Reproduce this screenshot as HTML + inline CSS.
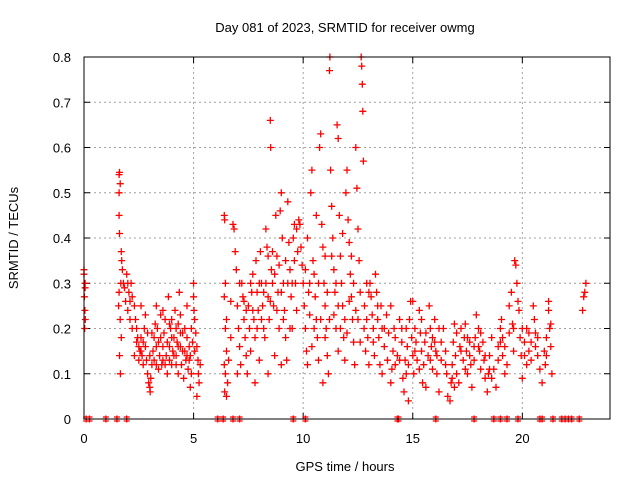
<!DOCTYPE html>
<html><head><meta charset="utf-8"><style>
body{margin:0;background:#fff}
svg text{font-family:"Liberation Sans",sans-serif;font-size:13px;fill:#000}
</style></head><body>
<svg width="640" height="480" viewBox="0 0 640 480" xmlns="http://www.w3.org/2000/svg">
<rect width="640" height="480" fill="#fff"/>
<text x="345" y="32" text-anchor="middle">Day 081 of 2023, SRMTID for receiver owmg</text>
<g id="grid"></g>
<g id="axes"></g>
<g id="marks"></g>
<rect x="84" y="57" width="526" height="362" fill="none" stroke="#000" stroke-width="1"/>
<text x="345" y="471" text-anchor="middle">GPS time / hours</text>
<text x="0" y="0" text-anchor="middle" transform="translate(18,238) rotate(-90)">SRMTID / TECUs</text>
</svg>
<script>
const xTicks=[0,5,10,15,20];
const yTicks=[0,0.1,0.2,0.3,0.4,0.5,0.6,0.7,0.8];
const yTickLabels=["0","0.1","0.2","0.3","0.4","0.5","0.6","0.7","0.8"];
const segA=[[0,0.33],[0,0.32],[0.05,0.3],[0.05,0.29],[0.02,0.27],[0.04,0.24],[0.06,0.22],[0.03,0.2],[1.6,0.54],[1.62,0.545],[1.65,0.52],[1.6,0.5],[1.6,0.45],[1.62,0.41],[1.7,0.37],[1.72,0.35],[1.75,0.33],[1.68,0.3],[1.6,0.28],[1.58,0.25],[1.65,0.22],[1.7,0.18],[1.62,0.14],[1.66,0.1],[1.8,0.3],[1.85,0.29],[1.95,0.32],[2.0,0.3],[2.05,0.28],[2.1,0.26],[2.15,0.3],[2.2,0.27],[2.0,0.24],[2.1,0.22],[1.9,0.26]];
const segB=[[2.3,0.25],[2.35,0.22],[2.4,0.2],[2.45,0.18],[2.5,0.16],[2.55,0.15],[2.6,0.18],[2.5,0.13],[2.65,0.14],[2.7,0.17],[2.75,0.2],[2.8,0.16],[2.85,0.13],[2.9,0.1],[2.95,0.08],[3.0,0.07],[3.02,0.06],[3.05,0.09],[3.1,0.12],[3.15,0.15],[3.2,0.18],[3.25,0.21],[3.3,0.16],[3.35,0.2],[3.4,0.17],[3.45,0.14],[3.5,0.23],[3.55,0.12],[3.6,0.16],[3.65,0.19],[3.7,0.22],[3.75,0.14],[3.8,0.1],[3.85,0.27],[3.9,0.16],[3.95,0.2],[4.0,0.12],[4.05,0.15],[4.1,0.18],[4.15,0.24],[4.2,0.14],[4.25,0.17],[4.3,0.21],[4.35,0.28],[4.4,0.16],[4.45,0.12],[4.5,0.19],[4.55,0.09],[4.6,0.15],[4.65,0.13],[4.7,0.18],[4.75,0.11],[4.8,0.16],[4.85,0.14],[4.9,0.2],[4.95,0.17],[5.0,0.3],[5.0,0.27],[5.02,0.24],[5.05,0.22],[5.1,0.19],[5.15,0.16],[5.2,0.13],[5.22,0.1],[5.25,0.08],[5.3,0.12],[3.3,0.25],[3.6,0.24],[4.0,0.22],[4.2,0.2],[4.4,0.23],[3.1,0.19],[2.6,0.25],[2.8,0.23],[3.9,0.13],[4.7,0.14],[4.3,0.1],[3.7,0.12],[4.85,0.07],[5.15,0.05]];
const segC=[[6.4,0.45],[6.42,0.44],[6.45,0.3],[6.4,0.27],[6.5,0.22],[6.45,0.2],[6.5,0.15],[6.4,0.12],[6.45,0.1],[6.42,0.06],[6.5,0.05],[6.55,0.08],[6.6,0.13],[6.7,0.18],[6.8,0.43],[6.85,0.42],[6.9,0.37],[6.95,0.33],[7.0,0.25],[7.05,0.2],[7.1,0.16],[7.15,0.12],[7.2,0.3],[7.25,0.27],[7.3,0.22],[7.35,0.18],[7.4,0.14],[7.45,0.1],[7.5,0.25],[7.55,0.2],[7.6,0.15],[7.65,0.28],[7.7,0.32],[7.75,0.22],[7.8,0.18],[7.85,0.35],[7.9,0.28],[7.95,0.24],[8.0,0.13],[8.05,0.37],[8.1,0.3],[8.15,0.25],[8.2,0.2],[8.25,0.18],[8.3,0.42],[8.35,0.38],[8.4,0.27],[8.45,0.22],[8.5,0.66],[8.52,0.6],[8.55,0.33],[8.6,0.3],[8.65,0.25],[8.7,0.14],[8.75,0.45],[8.8,0.36],[8.85,0.28],[8.9,0.2],[8.95,0.46],[9.0,0.5],[9.05,0.4],[9.1,0.3],[9.15,0.24],[9.2,0.18],[9.25,0.13],[9.3,0.48],[9.35,0.39],[9.4,0.33],[9.45,0.27],[9.5,0.2],[9.55,0.4],[9.6,0.43],[9.65,0.3],[9.7,0.24],[9.75,0.37],[7.0,0.1],[7.8,0.08],[8.4,0.1],[9.0,0.12],[8.0,0.3],[8.2,0.28],[8.7,0.32],[9.2,0.35],[9.4,0.2],[7.4,0.24],[6.7,0.26]];
const segD=[[9.8,0.44],[9.85,0.43],[9.9,0.38],[9.95,0.34],[10.0,0.3],[10.05,0.25],[10.1,0.2],[10.15,0.15],[10.2,0.12],[10.25,0.28],[10.3,0.23],[10.35,0.5],[10.4,0.55],[10.45,0.35],[10.5,0.32],[10.55,0.27],[10.6,0.22],[10.65,0.18],[10.7,0.13],[10.75,0.6],[10.8,0.63],[10.85,0.43],[10.9,0.38],[10.95,0.3],[11.0,0.25],[11.05,0.2],[11.1,0.14],[11.15,0.1],[11.2,0.77],[11.22,0.8],[11.25,0.55],[11.3,0.47],[11.35,0.4],[11.4,0.33],[11.45,0.28],[11.5,0.2],[11.55,0.65],[11.6,0.62],[11.65,0.45],[11.7,0.36],[11.75,0.3],[11.8,0.25],[11.85,0.18],[11.9,0.13],[11.95,0.5],[12.0,0.55],[12.05,0.44],[12.1,0.39],[12.15,0.32],[12.2,0.27],[12.25,0.22],[12.3,0.17],[12.35,0.12],[12.4,0.6],[12.45,0.51],[12.5,0.42],[12.55,0.35],[12.6,0.28],[12.65,0.8],[12.67,0.78],[12.7,0.74],[12.72,0.68],[12.75,0.57],[12.78,0.2],[10.2,0.4],[10.6,0.45],[11.0,0.36],[11.4,0.23],[11.8,0.41],[12.2,0.36],[10.4,0.16],[11.1,0.28],[11.7,0.2],[12.4,0.24],[10.9,0.08],[11.6,0.15]];
const segE=[[12.85,0.15],[12.9,0.22],[12.95,0.18],[13.0,0.12],[13.05,0.3],[13.1,0.27],[13.15,0.23],[13.2,0.17],[13.25,0.14],[13.3,0.32],[13.35,0.28],[13.4,0.22],[13.45,0.18],[13.5,0.12],[13.55,0.25],[13.6,0.2],[13.7,0.16],[13.8,0.23],[13.85,0.13],[13.9,0.19],[14.0,0.08],[14.05,0.11],[14.1,0.15],[14.15,0.2],[14.2,0.18],[14.3,0.14],[14.4,0.22],[14.5,0.17],[14.55,0.09],[14.6,0.06],[14.65,0.13],[14.7,0.2],[14.75,0.16],[14.8,0.12],[14.85,0.22],[14.9,0.26],[14.95,0.18],[15.0,0.14],[15.05,0.1],[15.1,0.2],[15.15,0.17],[15.2,0.13],[15.3,0.24],[15.35,0.19],[15.4,0.15],[15.45,0.08],[15.5,0.12],[15.55,0.17],[15.6,0.07],[15.7,0.14],[15.75,0.25],[15.8,0.2],[15.85,0.16],[15.9,0.11],[16.0,0.22],[16.05,0.15],[16.1,0.1],[16.2,0.06],[16.3,0.13],[16.4,0.2],[16.5,0.15],[16.55,0.1],[16.6,0.05],[16.7,0.04],[16.75,0.08],[16.8,0.12],[16.85,0.17],[16.9,0.21],[16.95,0.14],[17.0,0.1],[17.1,0.08],[17.15,0.16],[17.2,0.2],[17.3,0.13],[17.35,0.18],[17.4,0.21],[17.45,0.15],[17.5,0.1],[17.6,0.17],[17.65,0.12],[17.7,0.07],[17.8,0.13],[17.85,0.18],[17.9,0.23],[18.0,0.2],[18.05,0.15],[18.1,0.11],[18.2,0.17],[18.25,0.13],[18.3,0.09],[18.4,0.06],[18.45,0.1],[18.5,0.14],[18.6,0.18],[18.7,0.11],[18.8,0.07],[18.9,0.13],[19.0,0.2],[19.05,0.22],[19.1,0.18],[19.2,0.16],[19.3,0.12],[19.4,0.25],[19.5,0.28],[19.55,0.21],[19.6,0.15],[19.65,0.35],[19.7,0.34],[19.75,0.3],[19.8,0.26],[19.85,0.24],[19.9,0.18],[19.95,0.14],[20.0,0.09],[20.1,0.17],[20.2,0.2],[20.3,0.15],[20.4,0.13],[20.5,0.25],[20.55,0.22],[20.6,0.19],[20.7,0.14],[20.8,0.11],[20.9,0.08],[21.0,0.15],[21.05,0.12],[21.1,0.18],[21.2,0.24],[21.25,0.2],[21.3,0.16],[21.35,0.1],[21.2,0.26],[22.8,0.27],[22.85,0.28],[22.9,0.3],[22.75,0.24],[14.0,0.25],[15.0,0.26],[16.2,0.2],[17.0,0.19],[18.0,0.16],[19.2,0.1],[20.0,0.2],[20.2,0.12],[14.4,0.13],[15.9,0.18],[13.6,0.1],[14.8,0.04]];
const segF=[[2.4,0.17],[2.6,0.15],[2.7,0.12],[2.9,0.19],[3.0,0.14],[3.2,0.13],[3.4,0.11],[3.5,0.18],[3.6,0.13],[3.8,0.17],[3.9,0.21],[4.0,0.18],[4.1,0.14],[4.3,0.16],[4.4,0.19],[4.6,0.2],[4.7,0.25],[4.8,0.13],[4.9,0.1],[5.05,0.15],[2.2,0.2],[2.3,0.14],[3.3,0.12],[4.5,0.15],[4.2,0.12],
[7.1,0.3],[7.3,0.26],[7.6,0.3],[7.9,0.2],[8.1,0.22],[8.3,0.3],[8.5,0.26],[8.6,0.37],[8.8,0.24],[9.0,0.28],[9.1,0.22],[9.3,0.3],[9.5,0.3],[9.6,0.35],[9.7,0.42],[8.9,0.34],[8.4,0.36],[7.7,0.24],
[10.1,0.33],[10.3,0.3],[10.5,0.2],[10.7,0.3],[10.8,0.22],[11.0,0.18],[11.2,0.22],[11.3,0.36],[11.5,0.3],[11.6,0.25],[11.9,0.22],[12.0,0.19],[12.1,0.26],[12.3,0.3],[12.5,0.22],[12.6,0.17],[12.8,0.25],[12.9,0.3],[13.0,0.28],[13.2,0.2],[13.4,0.25],[13.7,0.2],
[14.2,0.12],[14.5,0.2],[14.7,0.1],[15.1,0.15],[15.3,0.11],[15.6,0.19],[15.8,0.13],[16.0,0.17],[16.3,0.17],[16.5,0.12],[16.8,0.09],[16.9,0.07],[17.2,0.15],[17.4,0.11],[17.6,0.14],[17.8,0.16],[18.1,0.19],[18.3,0.14],[18.5,0.11],[18.6,0.09],[18.9,0.16],[19.1,0.14],[19.4,0.19],[19.6,0.2],[20.1,0.14],[20.3,0.19],[20.6,0.16],[20.7,0.18],[21.1,0.14],[21.3,0.21],[20.4,0.17],[19.0,0.17],[17.5,0.18],[16.1,0.14],[15.4,0.22]];
const zeroTimes=[0.1,0.25,1.0,1.5,1.95,6.1,6.35,6.8,7.1,9.55,10.1,14.3,14.35,16.05,17.8,18.7,19.0,19.3,19.8,20.8,20.9,21.4,21.8,21.95,22.1,22.25,22.6];

const X0=84,X1=610,Y0=419,Y1=57,XMAX=24,YMAX=0.8;
const xs=t=>X0+(t/XMAX)*(X1-X0);
const ys=v=>Y0-(v/YMAX)*(Y0-Y1);
const NS='http://www.w3.org/2000/svg';
const grid=document.getElementById('grid'),axes=document.getElementById('axes'),marks=document.getElementById('marks');
function mk(tag,attrs,parent){const e=document.createElementNS(NS,tag);for(const k in attrs)e.setAttribute(k,attrs[k]);parent.appendChild(e);return e;}
xTicks.forEach(t=>{
  const x=xs(t);
  if(t>0){const g=mk('line',{x1:x,x2:x,y1:Y0,y2:Y1,stroke:'#a0a0a0','stroke-dasharray':'2,3'},grid);
  
  }
  mk('line',{x1:x,x2:x,y1:Y0,y2:Y0-6,stroke:'#000'},axes);
  mk('line',{x1:x,x2:x,y1:Y1,y2:Y1+6,stroke:'#000'},axes);
  const tx=mk('text',{x:x,y:443,'text-anchor':'middle'},axes);tx.textContent=t;
  
  
});
yTicks.forEach((v,i)=>{
  const y=ys(v);
  if(v>0&&v<YMAX){const g=mk('line',{x1:X0,x2:X1,y1:y,y2:y,stroke:'#a0a0a0','stroke-dasharray':'2,3'},grid);
  
  }
  mk('line',{x1:X0,x2:X0+6,y1:y,y2:y,stroke:'#000'},axes);
  mk('line',{x1:X1,x2:X1-6,y1:y,y2:y,stroke:'#000'},axes);
  const tx=mk('text',{x:71,y:y+5,'text-anchor':'end'},axes);tx.textContent=yTickLabels[i];
  
  
});
let d='';
[segA,segB,segC,segD,segE,segF].forEach(seg=>seg.forEach(([t,v])=>{
  const x=xs(t),y=ys(v);
  d+=`M${(x-3.5).toFixed(1)} ${y.toFixed(1)}H${(x+3.5).toFixed(1)}M${x.toFixed(1)} ${(y-3.5).toFixed(1)}V${(y+3.5).toFixed(1)}`;
}));
zeroTimes.forEach(t=>{
  const x=xs(t);
  d+=`M${(x-3).toFixed(1)} ${Y0}H${(x+3).toFixed(1)}M${x.toFixed(1)} ${Y0-3.5}V${Y0+3.5}M${(x-3).toFixed(1)} ${Y0-2}H${(x+3).toFixed(1)}M${(x-3).toFixed(1)} ${Y0+2}H${(x+3).toFixed(1)}`;
});
const p=mk('path',{d:d,stroke:'#ff0000','stroke-width':1.3,fill:'none'},marks);


</script>
</body></html>
